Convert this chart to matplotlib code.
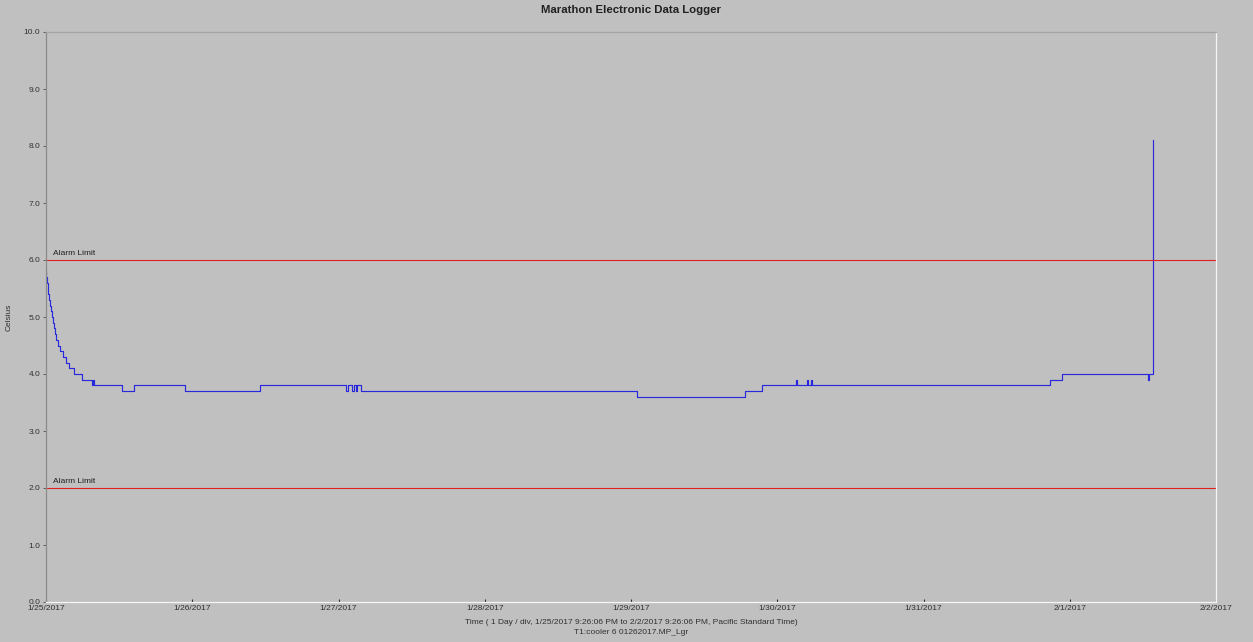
import matplotlib.pyplot as plt
import numpy as np

plt.rcParams['font.family'] = ['Liberation Sans', 'DejaVu Sans']

# logger readings: hours since 1/25/2017 9:26:06 PM, temperature in Celsius
hours = [0.00, 0.08, 0.16, 0.28, 0.41, 0.54, 0.66, 0.79, 0.94, 1.10,
         1.26, 1.48, 1.72, 1.97, 2.30, 2.71, 3.28, 3.77, 4.59, 5.83,
         7.55, 7.71, 7.88, 12.42, 14.49, 22.81, 35.12, 49.23, 49.48, 50.22,
         50.54, 50.87, 51.04, 51.69, 96.98, 114.71, 117.50, 123.08, 123.24, 124.88,
         125.04, 125.62, 125.78, 164.76, 166.73, 180.84, 180.96, 181.61, 181.69]
temps = [5.8, 5.7, 5.6, 5.5, 5.4, 5.3, 5.2, 5.1, 5.0, 4.9,
         4.8, 4.7, 4.6, 4.5, 4.4, 4.3, 4.2, 4.1, 4.0, 3.9,
         3.8, 3.9, 3.8, 3.7, 3.8, 3.7, 3.8, 3.7, 3.8, 3.7,
         3.8, 3.7, 3.8, 3.7, 3.6, 3.7, 3.8, 3.9, 3.8, 3.9,
         3.8, 3.9, 3.8, 3.9, 4.0, 3.9, 4.0, 5.9, 8.1]

alarm_high = 6.0
alarm_low = 2.0

day_labels = ['1/25/2017', '1/26/2017', '1/27/2017', '1/28/2017', '1/29/2017',
              '1/30/2017', '1/31/2017', '2/1/2017', '2/2/2017']
y_ticks = [0.0, 1.0, 2.0, 3.0, 4.0, 5.0, 6.0, 7.0, 8.0, 9.0, 10.0]

bg = '#c0c0c0'
txt = '#303030'

fig = plt.figure(figsize=(12.53, 6.42), dpi=100, facecolor=bg)
ax = fig.add_axes([46 / 1253, 40 / 642, 1170 / 1253, 570 / 642])
ax.set_facecolor(bg)

ax.plot(hours, temps, drawstyle='steps-post', color='#2828dc', lw=0.85)

for lim in (alarm_high, alarm_low):
    ax.axhline(lim, color='#e02020', lw=0.8)
    ax.text(1.1, lim + 0.05, 'Alarm Limit', fontsize=6, color='#202020',
            va='bottom', ha='left')

ax.set_xlim(0, 192)
ax.set_ylim(0, 10)
ax.set_xticks(np.arange(len(day_labels)) * 24)
ax.set_xticklabels(day_labels)
ax.set_yticks(y_ticks)
ax.set_yticklabels([f'{v:.1f}' for v in y_ticks])

ax.tick_params(axis='y', direction='out', length=2.5, width=0.7, color='#606060',
               labelsize=6, labelcolor=txt, pad=1.5)
ax.tick_params(axis='x', direction='in', length=2, width=0.8, color='#303030',
               labelsize=6, labelcolor=txt, pad=2.5)

ax.spines['left'].set_color('#8a8a8a')
ax.spines['top'].set_color('#a4a4a4')
ax.spines['bottom'].set_color('#f6f6f6')
ax.spines['right'].set_color('#f6f6f6')
for s in ax.spines.values():
    s.set_linewidth(0.9)

fig.text(9 / 1253, 1 - 317 / 642, 'Celsius', fontsize=6, color=txt,
         rotation=90, ha='center', va='center')

fig.text(631 / 1253, 1 - 10 / 642, 'Marathon Electronic Data Logger',
         fontsize=8.2, fontweight='bold', color='#202020', ha='center', va='center')
fig.text(631 / 1253, 1 - 622 / 642,
         'Time ( 1 Day / div, 1/25/2017 9:26:06 PM to 2/2/2017 9:26:06 PM, Pacific Standard Time)',
         fontsize=6, color=txt, ha='center', va='center')
fig.text(631 / 1253, 1 - 632 / 642, 'T1:cooler 6 01262017.MP_Lgr',
         fontsize=6, color=txt, ha='center', va='center')

fig.savefig('out.png', dpi=100, facecolor=bg)
